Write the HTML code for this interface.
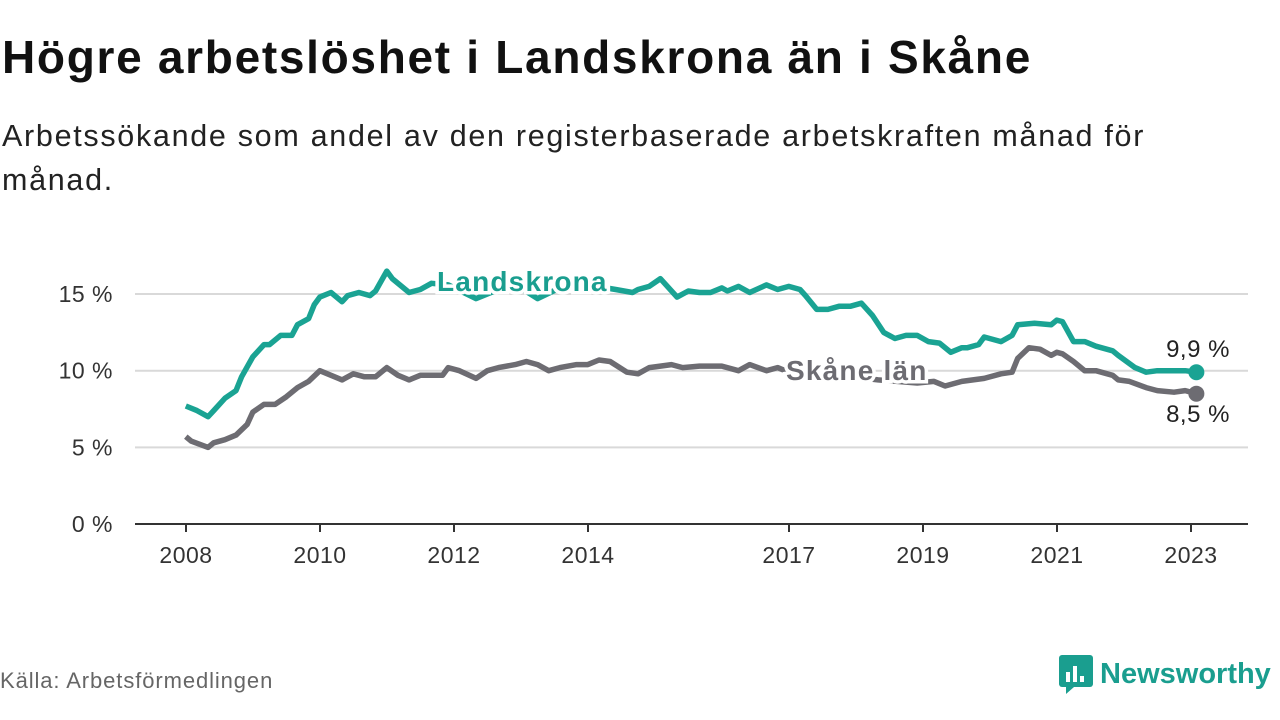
<!DOCTYPE html>
<html><head><meta charset="utf-8"><style>
body{margin:0;width:1280px;height:720px;background:#fff;font-family:"Liberation Sans",sans-serif;overflow:hidden;position:relative}
h1{position:absolute;left:2px;top:30px;margin:0;font-size:46px;letter-spacing:1.7px;font-weight:bold;color:#111;white-space:nowrap}
.sub{position:absolute;left:2px;top:114px;font-size:30.5px;letter-spacing:1.7px;line-height:44px;color:#222;width:1270px;white-space:nowrap}
.src{position:absolute;left:0;top:668px;font-size:22px;letter-spacing:0.9px;color:#666}
.logo{position:absolute;left:1058px;top:654px;display:flex;align-items:center;font-size:29px;font-weight:bold;color:#1a9e8f}
svg text{font-family:"Liberation Sans",sans-serif}
</style></head><body>
<h1>Högre arbetslöshet i Landskrona än i Skåne</h1>
<div class="sub">Arbetssökande som andel av den registerbaserade arbetskraften månad för<br>månad.</div>
<svg id="chart" width="1280" height="720" style="position:absolute;left:0;top:0"></svg>
<div class="src">Källa: Arbetsförmedlingen</div>
<div class="logo"><svg width="36" height="40" viewBox="0 0 36 40"><rect x="1" y="1" width="34" height="32" rx="3" fill="#1a9e8f"/><path d="M8 33 L8 40 L16 33Z" fill="#1a9e8f"/><rect x="8" y="18" width="4" height="10" fill="#fff"/><rect x="15" y="12" width="4" height="16" fill="#fff"/><rect x="22" y="22" width="4" height="6" fill="#fff"/></svg><span style="margin-left:6px">Newsworthy</span></div>
<script>
const yTicks=[0,5,10,15];
const yTickLabels=["0 %","5 %","10 %","15 %"];
const xTicks=[2008,2010,2012,2014,2017,2019,2021,2023];
const landMonths=[0,2,4,5,7,9,10,12,14,15,17,19,20,22,23,24,26,28,29,31,33,34,36,37,40,42,44,47,52,56,60,63,67,72,77,80,81,83,85,88,90,92,94,96,97,99,101,104,106,108,110,111,113,115,117,119,121,123,125,127,129,131,133,135,137,139,140,142,143,146,148,149,152,155,156,157,159,161,163,166,167,170,172,174,177,179,181];
const landVals=[7.7,7.4,7.0,7.4,8.2,8.7,9.6,10.9,11.7,11.7,12.3,12.3,13.0,13.4,14.3,14.8,15.1,14.5,14.9,15.1,14.9,15.2,16.5,16.0,15.1,15.3,15.7,15.6,14.7,15.3,15.4,14.7,15.4,15.6,15.3,15.1,15.3,15.5,16.0,14.8,15.2,15.1,15.1,15.4,15.2,15.5,15.1,15.6,15.3,15.5,15.3,14.9,14.0,14.0,14.2,14.2,14.4,13.6,12.5,12.1,12.3,12.3,11.9,11.8,11.2,11.5,11.5,11.7,12.2,11.9,12.3,13.0,13.1,13.0,13.3,13.2,11.9,11.9,11.6,11.3,11.0,10.2,9.9,10.0,10.0,10.0,9.9];
const skaneMonths=[0,1,4,5,7,9,11,12,14,16,18,20,22,24,26,28,30,32,34,36,38,40,42,46,47,49,52,54,56,59,61,63,65,67,70,72,74,76,79,81,83,85,87,89,92,96,99,101,104,106,108,110,117,124,131,134,136,139,141,143,146,148,149,151,153,155,156,157,159,161,163,166,167,169,172,174,177,179,181];
const skaneVals=[5.7,5.4,5.0,5.3,5.5,5.8,6.5,7.3,7.8,7.8,8.3,8.9,9.3,10.0,9.7,9.4,9.8,9.6,9.6,10.2,9.7,9.4,9.7,9.7,10.2,10.0,9.5,10.0,10.2,10.4,10.6,10.4,10.0,10.2,10.4,10.4,10.7,10.6,9.9,9.8,10.2,10.3,10.4,10.2,10.3,10.3,10.0,10.4,10.0,10.2,9.9,9.9,9.7,9.4,9.2,9.3,9.0,9.3,9.4,9.5,9.8,9.9,10.8,11.5,11.4,11.0,11.2,11.1,10.6,10.0,10.0,9.7,9.4,9.3,8.9,8.7,8.6,8.7,8.5];
const NS="http://www.w3.org/2000/svg";
const svg=document.getElementById('chart');
const X=yr=>186+(yr-2008)*67;
const Xm=m=>X(2008+(m+0.5)/12)-3;
const Y=v=>524-v*15.33;
function mk(t,a,p){const e=document.createElementNS(NS,t);for(const k in a)e.setAttribute(k,a[k]);(p||svg).appendChild(e);return e;}
yTicks.forEach((v,i)=>{
 if(v>0){const g=mk('line',{x1:135,x2:1248,y1:Y(v),y2:Y(v),stroke:'#d9d9d9','stroke-width':2});
 
 }
 const t=mk('text',{x:113,y:Y(v)+8,'text-anchor':'end','font-size':23,'letter-spacing':0.5,fill:'#333'});t.textContent=yTickLabels[i];
 
 
});
const ax=mk('line',{x1:135,x2:1248,y1:524,y2:524,stroke:'#333','stroke-width':2});


xTicks.forEach(yr=>{
 mk('line',{x1:X(yr),x2:X(yr),y1:524,y2:532,stroke:'#333','stroke-width':2});
 const t=mk('text',{x:X(yr),y:563,'text-anchor':'middle','font-size':23,'letter-spacing':0.5,fill:'#333'});t.textContent=yr;
 
 
});
function line(ms,vs,col,name){
 const d=ms.map((m,i)=>(i?'L':'M')+Xm(m).toFixed(1)+','+Y(vs[i]).toFixed(1)).join('');
 const p=mk('path',{d:d,fill:'none',stroke:col,'stroke-width':5.5,'stroke-linejoin':'round'});
 
 
 const n=ms.length-1;
 const c=mk('circle',{cx:Xm(ms[n]),cy:Y(vs[n]),r:8,fill:col});
 
 
}
line(skaneMonths,skaneVals,'#6d6c72','skane');
line(landMonths,landVals,'#1aa393','landskrona');
function lab(txt,x,y,col,name){
 const t=mk('text',{x:x,y:y,'font-size':28,'letter-spacing':1.2,'font-weight':'bold',fill:col,stroke:'#fff','stroke-width':7,'paint-order':'stroke'});t.textContent=txt;
 
 
}
lab('Landskrona',437,291,'#1a9e8f','landskrona-label');
lab('Skåne län',786,380,'#6d6c72','skane-label');
function val(txt,y,name){const t=mk('text',{x:1198,y:y,'font-size':24,'letter-spacing':0.5,fill:'#222','text-anchor':'middle',stroke:'#fff','stroke-width':5,'paint-order':'stroke'});t.textContent=txt;
 
 }
val('9,9 %',357,'landskrona-end-value');
val('8,5 %',422,'skane-end-value');
</script>
</body></html>
